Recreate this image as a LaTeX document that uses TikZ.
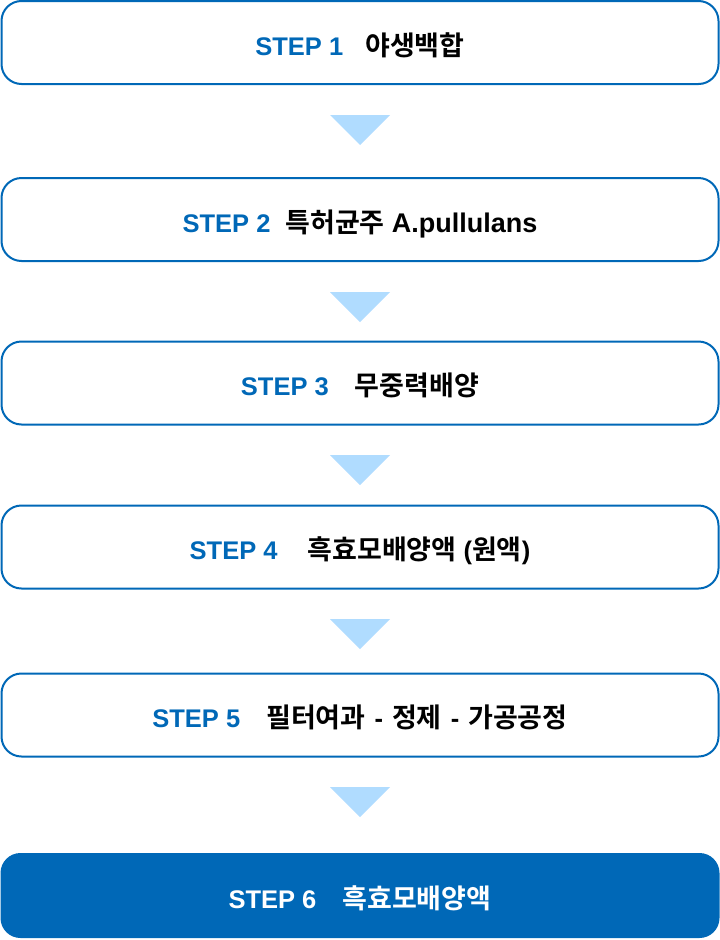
\documentclass[tikz,border=0pt]{standalone}
\usepackage{fontspec}
\setmainfont{Liberation Sans}[BoldFont={Liberation Sans Bold}]
\newfontfamily\kr{Noto Sans CJK KR}[BoldFont={Noto Sans CJK KR Bold}]
\definecolor{stepblue}{HTML}{0068B7}
\definecolor{trifill}{HTML}{B0DCFF}
\tikzset{
  stepbox/.style={draw=stepblue, line width=2pt, rounded corners=20pt, fill=white,
    minimum width=717pt, minimum height=83pt, inner sep=0pt,
    text height=25pt, text depth=0pt,
    font=\fontsize{25.5}{30}\selectfont\bfseries},
  finalbox/.style={fill=stepblue, rounded corners=20pt,
    minimum width=719pt, minimum height=85pt, inner sep=0pt, text=white,
    text height=25pt, text depth=0pt,
    font=\fontsize{25.5}{30}\selectfont\bfseries},
  tri/.style={fill=trifill}
}
\newcommand{\stp}[1]{{\color{stepblue}STEP #1}}
\newcommand{\ko}[1]{{\kr\fontsize{27}{30}\selectfont\bfseries #1}}
\begin{document}
\begin{tikzpicture}[x=1pt,y=-1pt]
\useasboundingbox (0,0) rectangle (720,940);
\node[stepbox] (b1) at (360,42.5) {\stp{1}\hspace{22pt}\ko{야생백합}};
\node[stepbox] (b2) at (360,219.5) {\stp{2}\hspace{15pt}\ko{특허균주} {\fontsize{27}{30}\selectfont A.pullulans}};
\node[stepbox] (b3) at (360,383) {\stp{3}\hspace{26pt}\ko{무중력배양}};
\node[stepbox] (b4) at (360,547) {\stp{4}\hspace{30pt}\ko{흑효모배양액} (\ko{원액})};
\node[stepbox] (b5) at (360,715) {\stp{5}\hspace{26pt}\ko{필터여과}\hspace{9pt}-\hspace{9pt}\ko{정제}\hspace{9pt}-\hspace{9pt}\ko{가공공정}};
\node[finalbox] (b6) at (360,895.5) {STEP 6\hspace{26pt}\ko{흑효모배양액}};
\foreach \a/\y in {1/115,2/292,3/455,4/619,5/787}{
  \coordinate (t\a) at (360,\y);
  \fill[tri] (t\a) ++(-30,0) -- ++(60,0) -- ++(-30,30) -- cycle;
}
\end{tikzpicture}
\end{document}
